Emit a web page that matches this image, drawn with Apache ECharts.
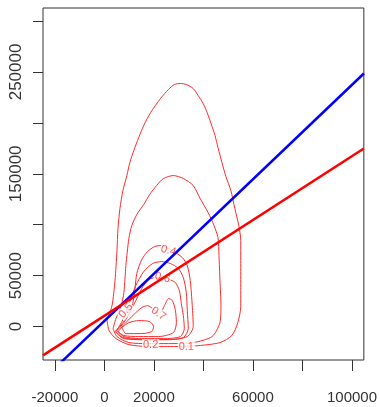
<!DOCTYPE html>
<html>
<head>
<meta charset="utf-8">
<script src="https://cdn.jsdelivr.net/npm/echarts@6/dist/echarts.min.js"></script>
<style>
html,body{margin:0;padding:0;background:#fff;}
#chart{width:380px;height:407px;}
</style>
</head>
<body>
<div id="chart"></div>
<script>
// Axis ticks and labels
const xTicks = [-20000, 0, 20000, 40000, 60000, 80000, 100000];
const xLabels = [-20000, 0, 20000, 60000, 100000];
const yTicks = [0, 50000, 100000, 150000, 200000, 250000, 300000];
const yLabels = [0, 50000, 150000, 250000];

// Contour levels (density contours, data units)
const level01 = [[1080,5900],[3080,20600],[4280,45200],[5080,74700],[5480,96300],[6280,115900],[7480,133600],[9080,148300],[10280,161100],[11880,172900],[13880,185700],[15880,197400],[18680,210200],[22680,224000],[25880,232800],[28280,237700],[30680,238700],[33080,237700],[35880,233800],[37880,226900],[39880,219100],[41480,210200],[43080,199400],[44680,187600],[45880,175800],[47480,161100],[49080,147300],[51080,133600],[52680,115900],[54280,99200],[55080,84500],[55080,64800],[55080,35400],[55080,19600],[53880,3900],[51480,-8800],[46680,-15700],[37880,-18700],[27880,-19600],[17880,-19600],[9880,-17700],[4680,-11800],[1880,-3900],[1080,5900]];
const level02 = [[3480,-2000],[4680,7900],[6680,19600],[7880,33400],[8680,59900],[9880,86400],[11080,99200],[13080,110000],[15880,119800],[18280,129700],[21080,138500],[23880,145400],[27880,148300],[31880,145400],[35880,138500],[38680,125700],[41880,112000],[44280,99200],[45880,87400],[46280,69700],[46680,45200],[47080,20600],[46680,3900],[43480,-9800],[35880,-15700],[25880,-16700],[17880,-16700],[9880,-15700],[5080,-9800],[3480,-2000]];
const level04 = [[4280,-4900],[7480,3900],[10280,13800],[11480,22600],[12280,35400],[13080,52100],[15080,65800],[17480,73700],[20280,78600],[23080,79600],[25880,76600],[28680,72700],[31480,67800],[33480,59900],[34680,45200],[35480,20600],[35880,0],[33480,-9800],[25880,-12800],[15880,-12800],[7880,-11800],[4280,-4900]];
const level05 = [[4680,-4900],[7080,4900],[9080,15700],[10680,27500],[12680,40300],[15880,54000],[19480,61900],[23080,63800],[26680,61900],[29880,57000],[31880,48100],[33080,33400],[33480,15700],[33880,-2000],[31880,-10800],[25080,-12800],[14680,-12800],[7480,-10800],[4680,-4900]];
const level06 = [[5080,-3900],[7880,3900],[10680,15700],[12680,25500],[15080,37300],[17880,46200],[20680,48100],[23480,48100],[26280,46200],[28680,43200],[30280,35400],[31080,22600],[31880,10800],[32280,-2000],[30680,-9800],[23880,-11800],[13880,-11800],[7880,-9800],[5080,-3900]];
const level07 = [[5480,-4900],[8280,2900],[11880,11800],[15080,18700],[17480,20600],[19880,16700],[22280,12800],[24280,20600],[25880,27500],[27480,25500],[28680,15700],[29080,3900],[27880,-5900],[21880,-9800],[13880,-9800],[7880,-8800],[5480,-4900]];
const level08 = [[7080,-1000],[9880,3900],[13880,5900],[18280,4900],[19880,0],[19080,-4900],[15080,-6900],[8680,-6900],[7080,-1000]];

// Contour label positions: [x, y, text, angle]
const contourLabels = [
  [33080, -19600, '0.1', 0],
  [18680, -17700, '0.2', 0],
  [25880, 74700, '0.4', -15],
  [8680, 15700, '0.5', 50],
  [23480, 48100, '0.6', -15],
  [21880, 12800, '0.7', -35]
];

// Fitted lines (end points)
const blueLine = [[-20000, -40800], [104800, 248500]];
const redLine = [[-24800, -28300], [104800, 174800]];

const chart = echarts.init(document.getElementById('chart'), null, {renderer: 'canvas'});

const contourSets = [level01, level02, level04, level05, level06, level07, level08];
const contourSeries = contourSets.map(d => ({
  type: 'line',
  data: d,
  showSymbol: false,
  symbol: 'none',
  smooth: 0.25,
  lineStyle: {color: '#ff2a2a', width: 1},
  silent: true,
  z: 2
}));

const fontFamily = '"Liberation Sans", Arial, sans-serif';

chart.setOption({
  animation: false,
  backgroundColor: '#fff',
  grid: {left: 43, right: 13, top: 8, bottom: 47, show: true, borderColor: '#333', borderWidth: 1, backgroundColor: 'transparent'},
  xAxis: {
    type: 'value',
    min: -24800,
    max: 104800,
    splitLine: {show: false},
    axisLine: {show: false, onZero: false},
    axisTick: {show: true, length: 11, lineStyle: {color: '#333'}, customValues: xTicks},
    axisLabel: {
      show: true, customValues: xLabels, margin: 30,
      color: '#333', fontSize: 15, fontFamily: fontFamily,
      formatter: v => String(v)
    }
  },
  yAxis: {
    type: 'value',
    min: -32800,
    max: 312800,
    splitLine: {show: false},
    axisLine: {show: false, onZero: false},
    axisTick: {show: true, length: 10, lineStyle: {color: '#333'}, customValues: yTicks},
    axisLabel: {
      show: true, customValues: yLabels, margin: 18, rotate: 90,
      color: '#333', fontSize: 17, fontFamily: fontFamily,
      formatter: v => String(v)
    }
  },
  series: contourSeries.concat([
    {
      type: 'scatter',
      data: contourLabels.map(l => ({
        value: [l[0], l[1]],
        label: {formatter: l[2], rotate: l[3]}
      })),
      symbolSize: 1,
      itemStyle: {color: 'rgba(0,0,0,0)'},
      label: {
        show: true, position: 'inside', color: '#ff2a2a', fontSize: 11,
        fontFamily: fontFamily, backgroundColor: '#fff', padding: [0, 1]
      },
      silent: true,
      z: 3
    },
    {
      type: 'line', data: blueLine, showSymbol: false, symbol: 'none',
      lineStyle: {color: '#0000ff', width: 2.5}, silent: true, z: 4
    },
    {
      type: 'line', data: redLine, showSymbol: false, symbol: 'none',
      lineStyle: {color: '#ff0000', width: 2.5}, silent: true, z: 5
    }
  ])
});
</script>
</body>
</html>
